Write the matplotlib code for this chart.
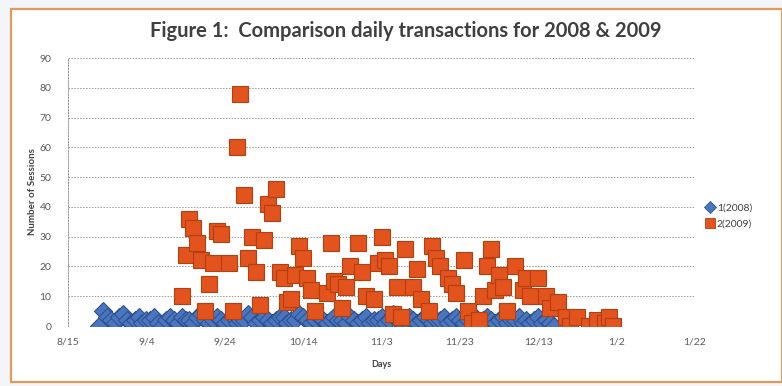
import matplotlib
matplotlib.use("Agg")
import matplotlib.pyplot as plt
from matplotlib.lines import Line2D
from matplotlib.patches import Rectangle
import pandas as pd

plt.rcParams['font.family'] = ['Lato', 'DejaVu Sans']

# Daily sessions, 2008 (one value per day starting 8/23)
sessions_2008_start = "8/23"
sessions_2008 = [0, 5, 3, 2, 1, 3, 4, 2, 1, 2, 3, 1, 2, 2, 3, 1, 0, 2, 3, 2, 1, 3, 2, 2, 1, 3, 4, 2, 1, 2,
                 3, 2, 1, 2, 3, 1, 2, 2, 4, 3, 1, 2, 3, 2, 1, 2, 3, 3, 1, 2,
                 2, 4, 3, 2, 1, 2, 3, 2, 1, 2, 3, 2, 2, 1, 3, 2, 1, 2, 3, 1,
                 2, 2, 3, 1, 2, 4, 2, 1, 2, 3, 2, 1, 2, 3, 2, 1, 2, 2, 3, 1,
                 2, 3, 2, 1, 2, 4, 2, 1, 2, 3, 2, 1, 2, 3, 1, 2, 2, 3, 1, 2,
                 1, 2, 3, 1, 2, 1, 0]

# Daily sessions, 2009
dates_2009 = ["9/13", "9/14", "9/15", "9/16", "9/17", "9/18", "9/19", "9/20", "9/21", "9/22",
              "9/23", "9/25", "9/26", "9/27", "9/28", "9/29", "9/30", "10/1", "10/2", "10/3",
              "10/4", "10/5", "10/6", "10/7", "10/8", "10/9", "10/10", "10/11", "10/12", "10/13",
              "10/14", "10/15", "10/16", "10/17", "10/20", "10/21", "10/22", "10/23", "10/24", "10/25",
              "10/26", "10/28", "10/29", "10/30", "11/1", "11/2", "11/3", "11/4", "11/5", "11/6",
              "11/7", "11/8", "11/9", "11/11", "11/12", "11/13", "11/15", "11/16", "11/17", "11/18",
              "11/20", "11/21", "11/22", "11/24", "11/25", "11/26", "11/28", "11/29", "11/30", "12/1",
              "12/2", "12/3", "12/4", "12/5", "12/7", "12/9", "12/10", "12/11", "12/13", "12/15",
              "12/16", "12/18", "12/20", "12/21", "12/23", "12/26", "12/28", "12/30", "12/31", "1/1"]
sessions_2009 = [10, 24, 36, 33, 28, 22, 5, 14, 21, 32,
                 31, 21, 5, 60, 78, 44, 23, 30, 18, 7,
                 29, 41, 38, 46, 18, 16, 8, 9, 17, 27,
                 23, 16, 12, 5, 11, 28, 15, 14, 6, 13,
                 20, 28, 18, 10, 9, 21, 30, 22, 20, 4,
                 13, 3, 26, 13, 19, 9, 5, 27, 23, 20,
                 16, 14, 11, 22, 5, 1, 2, 10, 20, 26,
                 12, 17, 13, 5, 20, 12, 16, 10, 16, 10,
                 6, 8, 3, 0, 3, 0, 2, 1, 3, 0]

x_ticks = ["8/15", "9/4", "9/24", "10/14", "11/3", "11/23", "12/13", "1/2", "1/22"]


def to_date(md):
    m, d = (int(v) for v in md.split("/"))
    year = 2009 if m >= 8 else 2010
    return pd.Timestamp(year=year, month=m, day=d)


x_2008 = pd.date_range(to_date(sessions_2008_start), periods=len(sessions_2008), freq="D")
x_2009 = [to_date(s) for s in dates_2009]
tick_dates = [to_date(s) for s in x_ticks]

fig = plt.figure(figsize=(7.82, 3.86), dpi=100)
fig.patch.set_facecolor("#f3f5f8")
# chart frame
fig.add_artist(Rectangle((11 / 782, 4 / 386), 771 / 782, 373 / 386, transform=fig.transFigure,
                         facecolor="white", edgecolor="#e09a5a", linewidth=1.6, zorder=0))

ax = fig.add_axes([68 / 782, 1 - 326 / 386, 627 / 782, 268 / 386])
ax.set_facecolor("white")

grey = "#5a5a5a"
ax.plot(x_2008, sessions_2008, linestyle="none", marker="D", markersize=9,
        markerfacecolor="#4a76c0", markeredgecolor="#2f528f", markeredgewidth=0.8,
        label="1(2008)", zorder=3)
ax.plot(x_2009, sessions_2009, linestyle="none", marker="s", markersize=12,
        markerfacecolor="#e2531d", markeredgecolor="#b5400f", markeredgewidth=0.8,
        label="2(2009)", zorder=4)

ax.set_ylim(0, 90)
ax.set_yticks(range(0, 91, 10))
ax.set_xlim(tick_dates[0], tick_dates[-1])
ax.set_xticks(tick_dates)
ax.set_xticklabels(x_ticks)

ax.grid(axis="y", color="#9a9a9a", linestyle=(0, (1.5, 1.5)), linewidth=0.7)
ax.set_axisbelow(True)
for side in ("top", "right", "bottom"):
    ax.spines[side].set_visible(False)
ax.spines["left"].set_color("#9a9a9a")
ax.spines["left"].set_linestyle((0, (1.5, 1.5)))
ax.spines["left"].set_linewidth(0.7)
ax.tick_params(axis="both", length=0, labelsize=7.5, labelcolor=grey)
ax.tick_params(axis="x", pad=8)
ax.tick_params(axis="y", pad=12)

ax.set_xlabel("Days", fontsize=6.5, fontweight="bold", color="#404040", labelpad=10)
ax.set_ylabel("Number of Sessions", fontsize=7, fontweight="bold", color="#404040", labelpad=2)

fig.text(406 / 782, 1 - 31 / 386, "Figure 1:  Comparison daily transactions for 2008 & 2009",
         ha="center", va="center", fontsize=14.5, fontweight="bold", color="#404040")

handles = [Line2D([], [], linestyle="none", marker="D", markersize=6, markerfacecolor="#4a76c0",
                  markeredgecolor="#2f528f", markeredgewidth=0.6),
           Line2D([], [], linestyle="none", marker="s", markersize=7, markerfacecolor="#e2531d",
                  markeredgecolor="#b5400f", markeredgewidth=0.6)]
fig.legend(handles, ["1(2008)", "2(2009)"], loc="center left",
           bbox_to_anchor=(696 / 782, 1 - 216 / 386), frameon=False, fontsize=7.5,
           labelcolor="#404040", handlelength=0.8, handletextpad=0.3, labelspacing=0.6)

fig.savefig("out.png", dpi=100, facecolor=fig.get_facecolor())
